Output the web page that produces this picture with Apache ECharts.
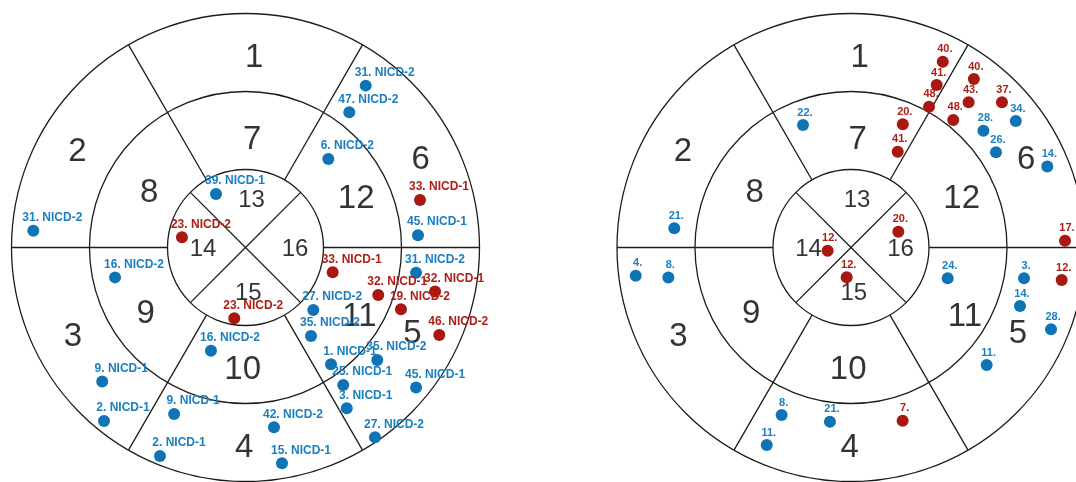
<!DOCTYPE html>
<html>
<head>
<meta charset="utf-8">
<script src="https://cdn.jsdelivr.net/npm/echarts@6/dist/echarts.min.js"></script>
<style>
  html, body { margin: 0; padding: 0; background: #ffffff; }
  #chart { width: 1076px; height: 482px; }
</style>
</head>
<body>
<div id="chart"></div>
<script>
// ---- 16-segment bull's-eye template ----
// Segment numbers and where each number sits: radius in ring units (0..3), angle in degrees (0 = right, counter-clockwise)
const segmentNames  = ['1', '2', '3', '4', '5', '6', '7', '8', '9', '10', '11', '12', '13', '14', '15', '16'];
const segmentRadius = [2.43, 2.48, 2.49, 2.57, 2.41, 2.51, 1.38, 1.42, 1.54, 1.57, 1.71, 1.55, 0.614, 0.545, 0.588, 0.635];
const segmentAngle  = [87.4, 150.3, 207.3, 269.6, 332.6, 26.5, 86.4, 150.4, 213.7, 268.7, 328.7, 23.7, 82.8, 182, 273.5, 358];

// Ring boundaries and segment dividers
const ringRadii = [1, 2, 3];
const outerDividerAngles = [0, 60, 120, 180, 240, 300];
const innerDividerAngles = [45, 135];

// ---- Left panel: case labels, group (A / B), radius, angle ----
const leftLabels = ['31. NICD-2', '47. NICD-2', '6. NICD-2', '33. NICD-1', '45. NICD-1', '39. NICD-1', '23. NICD-2', '31. NICD-2',
  '16. NICD-2', '23. NICD-2', '33. NICD-1', '31. NICD-2', '32. NICD-1', '32. NICD-1', '19. NICD-2', '46. NICD-2',
  '27. NICD-2', '35. NICD-2', '1. NICD-1', '35. NICD-2', '25. NICD-1', '45. NICD-1', '3. NICD-1', '27. NICD-2',
  '16. NICD-2', '9. NICD-1', '2. NICD-1', '9. NICD-1', '2. NICD-1', '42. NICD-2', '15. NICD-1'];
const leftGroup = ['A', 'A', 'A', 'B', 'A', 'A', 'B', 'A',
  'A', 'B', 'B', 'A', 'B', 'B', 'B', 'B',
  'A', 'A', 'A', 'A', 'A', 'A', 'A', 'A',
  'A', 'A', 'A', 'A', 'A', 'A', 'A'];
const leftRadius = [2.585, 2.186, 1.554, 2.318, 2.217, 0.783, 0.825, 2.729,
  1.716, 0.919, 1.162, 2.210, 1.808, 2.495, 2.145, 2.726,
  1.182, 1.412, 1.856, 2.222, 2.163, 2.830, 2.436, 2.946,
  1.395, 2.516, 2.870, 2.323, 2.889, 2.334, 2.806];
const leftAngle = [53.4, 52.5, 46.9, 15.2, 4.1, 118.9, 170.9, 175.5,
  192.9, 261.0, 344.1, 351.6, 340.3, 346.9, 338.3, 335.7,
  317.3, 306.5, 306.2, 319.5, 305.4, 320.6, 302.2, 304.3,
  251.5, 223.1, 230.8, 246.8, 247.7, 279.0, 279.6];

// ---- Right panel ----
const rightLabels = ['40.', '41.', '48.', '20.', '41.', '40.', '43.', '37.', '48.', '34.', '28.', '26.', '14.',
  '22.', '21.', '20.', '12.', '17.', '12.', '4.', '8.', '24.', '3.', '12.', '14.', '28.', '11.', '8.', '21.', '11.', '7.'];
const rightGroup = ['B', 'B', 'B', 'B', 'B', 'B', 'B', 'B', 'B', 'A', 'A', 'A', 'A',
  'A', 'A', 'B', 'B', 'B', 'B', 'A', 'A', 'A', 'A', 'B', 'A', 'A', 'A', 'A', 'A', 'A', 'B'];
const rightRadius = [2.656, 2.355, 2.064, 1.713, 1.366, 2.674, 2.396, 2.686, 2.096, 2.663, 2.263, 2.224, 2.722,
  1.687, 2.279, 0.640, 0.302, 2.745, 0.386, 2.784, 2.373, 1.301, 2.253, 2.733, 2.293, 2.770, 2.301, 2.324, 2.250, 2.753, 2.317];
const rightAngle = [63.7, 62.2, 61.0, 67.2, 64.0, 53.9, 51.0, 43.9, 51.3, 37.5, 41.4, 33.3, 22.4,
  111.4, 173.8, 18.5, 187.8, 1.8, 261.8, 187.5, 189.3, 342.3, 349.9, 351.2, 340.9, 337.8, 319.1, 247.5, 263.1, 246.9, 286.6];

// ---- styling ----
const LINE = '#1c1c1c';
const DOT = { A: '#0f74b6', B: '#a91810' };
const TEXT = { A: '#1a7fc0', B: '#ad1e16' };
const FONT = '"Liberation Sans", Arial, sans-serif';
const panels = [
  { center: [245.5, 247.5], labels: leftLabels, group: leftGroup, radius: leftRadius, angle: leftAngle, fontSize: 12, offset: [19, 0] },
  { center: [851, 247.5], labels: rightLabels, group: rightGroup, radius: rightRadius, angle: rightAngle, fontSize: 11, offset: [2, 0] }
];

const polar = [], radiusAxis = [], angleAxis = [], series = [];

panels.forEach((p, pi) => {
  polar.push({ center: p.center, radius: 234 });
  radiusAxis.push({
    polarIndex: pi, type: 'value', min: 0, max: 3, interval: 1,
    axisLine: { show: false }, axisTick: { show: false }, axisLabel: { show: false },
    splitLine: { show: true, lineStyle: { color: LINE, width: 1.3 } }
  });
  angleAxis.push({
    polarIndex: pi, type: 'value', min: 0, max: 360, startAngle: 0, clockwise: false,
    axisLine: { show: false }, axisTick: { show: false }, axisLabel: { show: false },
    splitLine: { show: false }
  });

  const lineBase = {
    type: 'line', coordinateSystem: 'polar', polarIndex: pi, symbol: 'none', silent: true,
    lineStyle: { color: LINE, width: 1.3 }, z: 1, animation: false
  };
  // dividers across the middle and outer rings
  outerDividerAngles.forEach(a => {
    series.push(Object.assign({}, lineBase, { data: [[ringRadii[0], a], [ringRadii[2], a]] }));
  });
  // the cross dividing the inner ring
  innerDividerAngles.forEach(a => {
    series.push(Object.assign({}, lineBase, { data: [[ringRadii[0], a], [0, a], [ringRadii[0], a + 180]] }));
  });

  // segment numbers (inner ring numbers are smaller)
  series.push({
    type: 'scatter', coordinateSystem: 'polar', polarIndex: pi, symbolSize: 0, silent: true, z: 3, animation: false,
    data: segmentNames.map((n, i) => ({
      name: n,
      value: [segmentRadius[i], segmentAngle[i]],
      label: { fontSize: i >= 12 ? 24 : 33 }
    })),
    label: {
      show: true, position: 'inside', color: '#000000', fontFamily: FONT,
      formatter: d => d.name
    }
  });

  // cases
  series.push({
    type: 'scatter', coordinateSystem: 'polar', polarIndex: pi, symbol: 'circle', symbolSize: 12, z: 4, animation: false,
    itemStyle: { opacity: 1 },
    emphasis: { disabled: true },
    data: p.labels.map((t, i) => ({
      name: t,
      value: [p.radius[i], p.angle[i]],
      itemStyle: { color: DOT[p.group[i]], opacity: 1 },
      label: { color: TEXT[p.group[i]] }
    })),
    label: {
      show: true, position: 'top', distance: 1, offset: p.offset,
      fontFamily: FONT, fontWeight: 'bold', fontSize: p.fontSize,
      formatter: d => d.name
    }
  });
});

const chart = echarts.init(document.getElementById('chart'), null, { renderer: 'canvas' });
chart.setOption({
  backgroundColor: '#ffffff',
  animation: false,
  polar: polar,
  radiusAxis: radiusAxis,
  angleAxis: angleAxis,
  series: series
});
</script>
</body>
</html>
